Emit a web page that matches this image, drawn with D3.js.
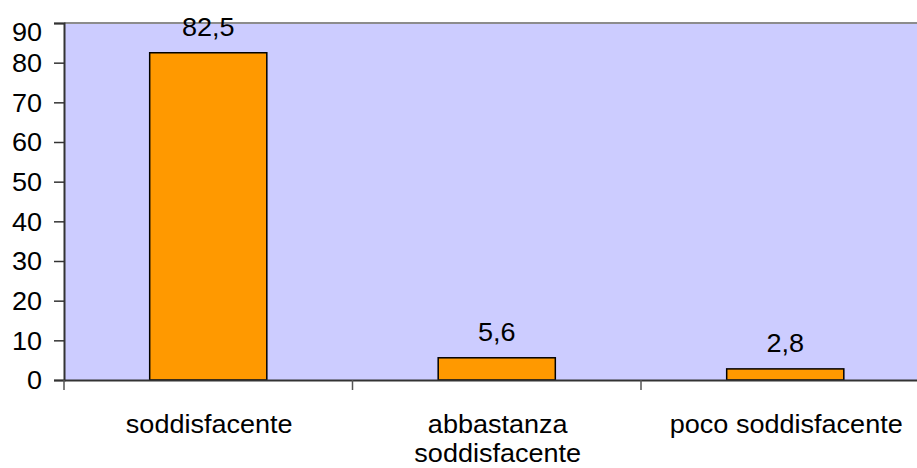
<!DOCTYPE html>
<html>
<head>
<meta charset="utf-8">
<script src="https://cdn.jsdelivr.net/npm/d3@7"></script>
<style>
  html, body { margin: 0; padding: 0; background: #ffffff; }
  svg { display: block; }
  text { font-family: "Liberation Sans", Arial, sans-serif; fill: #000; }
</style>
</head>
<body>
<svg id="chart" width="917" height="468"></svg>
<script>
// Survey answers and their percentages
const categories = ["soddisfacente", "abbastanza soddisfacente", "poco soddisfacente"];
const categoryLines = [["soddisfacente"], ["abbastanza", "soddisfacente"], ["poco soddisfacente"]];
const values = [82.5, 5.6, 2.8];
const valueLabels = ["82,5", "5,6", "2,8"];
const yTicks = [0, 10, 20, 30, 40, 50, 60, 70, 80, 90];

const W = 917, H = 468;
const plot = { left: 64, top: 23, bottom: 380, bandW: 288.5 };
const fontSize = 26;
const stretch = 1.04;   // glyphs are drawn slightly wide
const half = fontSize * 0.358;  // half the digit height

const svg = d3.select("#chart");

const x = d3.scaleBand()
  .domain(categories)
  .range([plot.left, plot.left + plot.bandW * categories.length])
  .paddingInner(0).paddingOuter(0);

const y = d3.scaleLinear().domain([0, 90]).range([plot.bottom, plot.top]);

// plot background
svg.append("rect")
  .attr("x", plot.left).attr("y", plot.top)
  .attr("width", W - plot.left + 20).attr("height", plot.bottom - plot.top)
  .attr("fill", "#ccccff");

// top border of plot area
svg.append("line")
  .attr("x1", plot.left).attr("x2", W)
  .attr("y1", plot.top).attr("y2", plot.top)
  .attr("stroke", "#8c8c8c").attr("stroke-width", 2);

// bars
const barFrac = 0.406;
svg.append("g").selectAll("rect")
  .data(values)
  .join("rect")
  .attr("x", (d, i) => x(categories[i]) + x.bandwidth() * (1 - barFrac) / 2)
  .attr("y", d => y(d))
  .attr("width", x.bandwidth() * barFrac)
  .attr("height", d => y(0) - y(d))
  .attr("fill", "#ff9900")
  .attr("stroke", "#000")
  .attr("stroke-width", 1.5);

// value labels above bars
svg.append("g").selectAll("text")
  .data(values)
  .join("text")
  .attr("transform", (d, i) =>
    `translate(${x(categories[i]) + x.bandwidth() / 2},${y(d) - 26 + half}) scale(${stretch},1)`)
  .attr("text-anchor", "middle")
  .attr("font-size", fontSize)
  .text((d, i) => valueLabels[i]);

// y axis
const yAxis = d3.axisLeft(y).tickValues(yTicks).tickSize(10).tickFormat("");
const gy = svg.append("g").attr("transform", `translate(${plot.left},0)`).call(yAxis);
gy.select(".domain").attr("stroke", "#333").attr("stroke-width", 2);
gy.selectAll(".tick line").attr("stroke", "#333").attr("stroke-width", 1.5);

svg.append("g").selectAll("text")
  .data(yTicks)
  .join("text")
  .attr("transform", d => `translate(42,${Math.max(y(d), 31.5) + half}) scale(${stretch},1)`)
  .attr("text-anchor", "end")
  .attr("font-size", fontSize)
  .text(d => d);

// x axis
const xAxis = d3.axisBottom(x).tickSize(0).tickFormat("");
const gx = svg.append("g").attr("transform", `translate(0,${plot.bottom})`).call(xAxis);
gx.select(".domain").attr("stroke", "#333").attr("stroke-width", 2);

// category separators
const sepPos = d3.range(categories.length + 1).map(i => plot.left + i * x.step());
svg.append("g").selectAll("line")
  .data(sepPos)
  .join("line")
  .attr("x1", d => d).attr("x2", d => d)
  .attr("y1", plot.bottom).attr("y2", plot.bottom + 10)
  .attr("stroke", "#555").attr("stroke-width", 1.5);

// category labels
const catG = svg.append("g").selectAll("g")
  .data(categories)
  .join("g")
  .attr("transform", (d, i) => `translate(${x(d) + x.bandwidth() / 2 + 1},433)`);
catG.each(function(d, i) {
  d3.select(this).selectAll("text")
    .data(categoryLines[i])
    .join("text")
    .attr("transform", (t, j) => `translate(0,${j * 29}) scale(${stretch},1)`)
    .attr("text-anchor", "middle")
    .attr("font-size", fontSize)
    .text(t => t);
});
</script>
</body>
</html>
